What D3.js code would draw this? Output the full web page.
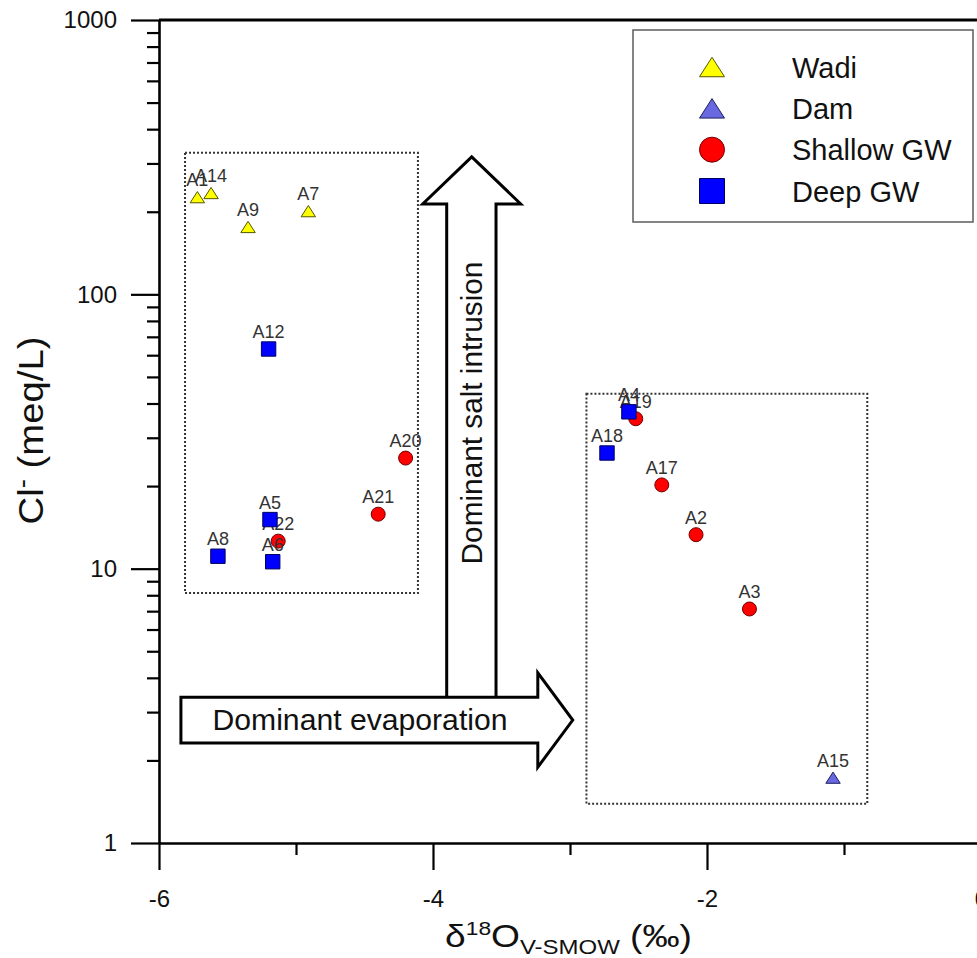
<!DOCTYPE html>
<html>
<head>
<meta charset="utf-8">
<script src="https://cdn.jsdelivr.net/npm/d3@7"></script>
<style>
  html, body { margin: 0; padding: 0; background: #fff; }
  svg { display: block; font-family: "Liberation Sans", Arial, sans-serif; }
</style>
</head>
<body>
<svg id="chart" width="977" height="958"></svg>
<script>
// ---------------- data ----------------
const xMajorTicks = [-6, -4, -2, 0];
const xMinorTicks = [-5, -3, -1];
const yMajorTicks = [1, 10, 100, 1000];
const yMinorTicks = [2,3,4,5,6,7,8,9,20,30,40,50,60,70,80,90,200,300,400,500,600,700,800,900];

const seriesNames = ["Wadi", "Dam", "Shallow GW", "Deep GW"];

const wadiLabels = ["A1", "A14", "A9", "A7"];
const wadiO18    = [-5.72, -5.62, -5.35, -4.91];
const wadiCl     = [226, 234, 176, 201];

const damLabels = ["A15"];
const damO18    = [-1.08];
const damCl     = [1.73];

const shallowLabels = ["A22", "A21", "A20", "A19", "A17", "A2", "A3"];
const shallowO18    = [-5.13, -4.40, -4.20, -2.52, -2.33, -2.08, -1.69];
const shallowCl     = [12.6, 15.8, 25.3, 35.2, 20.2, 13.3, 7.13];

const deepLabels = ["A6", "A12", "A5", "A8", "A4", "A18"];
const deepO18    = [-5.17, -5.20, -5.19, -5.57, -2.57, -2.73];
const deepCl     = [10.6, 63.2, 15.1, 11.1, 37.3, 26.4];

// dotted group boxes (data units): [xMin, xMax, clMin, clMax]
const groupBoxLeft  = [-5.81, -4.11, 8.15, 328];
const groupBoxRight = [-2.88, -0.83, 1.39, 43.4];

// annotation arrows (data units)
const evapArrowX  = [-5.84, -3.235, -2.98];   // tail, head base, tip
const evapArrowCl = [2.315, 3.40, 1.89, 4.17]; // shaft low, shaft high, head low, head high
const saltArrowX  = [-3.90, -3.54, -4.075, -3.36]; // shaft left/right, head left/right
const saltArrowCl = [3.40, 213.6, 317];        // shaft bottom, head base, tip

// ---------------- layout ----------------
const svg = d3.select("#chart");
const W = 977, H = 958;
const x = d3.scaleLinear().domain([-6, 0]).range([159, 981]);
const y = d3.scaleLog().domain([1, 1000]).range([843, 20]);

const colors = {
  "Wadi": {fill: "#ffff00", stroke: "#555500"},
  "Dam": {fill: "#6868e0", stroke: "#202060"},
  "Shallow GW": {fill: "#ff0000", stroke: "#700000"},
  "Deep GW": {fill: "#0000ff", stroke: "#000060"}
};

function stretchText(t, cx, cy, target, rotate) {
  const w = t.node().getComputedTextLength();
  const s = target / w;
  t.attr("x", 0).attr("y", 0).attr("text-anchor", "middle")
   .attr("transform", `translate(${cx},${cy})` + (rotate ? ` rotate(${rotate})` : "") + ` scale(${s},1)`);
}

// ---------------- dotted boxes ----------------
[groupBoxLeft, groupBoxRight].forEach(b => {
  svg.append("rect")
    .attr("x", x(b[0])).attr("y", y(b[3]))
    .attr("width", x(b[1]) - x(b[0])).attr("height", y(b[2]) - y(b[3]))
    .attr("fill", "none").attr("stroke", "#333").attr("stroke-width", 2)
    .attr("stroke-dasharray", "2,2");
});

// ---------------- arrows ----------------
const sA = {
  l: x(saltArrowX[0]), r: x(saltArrowX[1]),
  hl: x(saltArrowX[2]), hr: x(saltArrowX[3]),
  bottom: y(saltArrowCl[0]) + 3, base: y(saltArrowCl[1]), tip: y(saltArrowCl[2])
};
svg.append("path")
  .attr("d", `M${sA.l},${sA.bottom} L${sA.l},${sA.base} L${sA.hl},${sA.base} L${(sA.hl + sA.hr) / 2},${sA.tip} L${sA.hr},${sA.base} L${sA.r},${sA.base} L${sA.r},${sA.bottom}`)
  .attr("fill", "#fff").attr("stroke", "#000").attr("stroke-width", 3).attr("stroke-linejoin", "miter");

const eA = {
  tail: x(evapArrowX[0]), base: x(evapArrowX[1]), tip: x(evapArrowX[2]),
  sb: y(evapArrowCl[0]), st: y(evapArrowCl[1]), hb: y(evapArrowCl[2]), ht: y(evapArrowCl[3])
};
svg.append("path")
  .attr("d", `M${eA.tail},${eA.st} L${eA.base},${eA.st} L${eA.base},${eA.ht} L${eA.tip},${(eA.st + eA.sb) / 2} L${eA.base},${eA.hb} L${eA.base},${eA.sb} L${eA.tail},${eA.sb} Z`)
  .attr("fill", "#fff").attr("stroke", "#000").attr("stroke-width", 3).attr("stroke-linejoin", "miter");

const evapText = svg.append("text").attr("font-size", 29).attr("fill", "#111").text("Dominant evaporation");
stretchText(evapText, 360, (eA.st + eA.sb) / 2 + 10, 295);

const saltText = svg.append("text").attr("font-size", 29).attr("fill", "#111").text("Dominant salt intrusion");
stretchText(saltText, (sA.l + sA.r) / 2 + 11, 413, 303, -90);

// ---------------- axes ----------------
const axisG = svg.append("g");
// y minor
axisG.append("g").attr("transform", `translate(${x(-6)},0)`)
  .call(d3.axisLeft(y).tickValues(yMinorTicks).tickSize(12).tickSizeOuter(0).tickFormat(""))
  .call(g => g.select(".domain").remove());
// y major
const yAx = axisG.append("g").attr("transform", `translate(${x(-6)},0)`)
  .call(d3.axisLeft(y).tickValues(yMajorTicks).tickSize(28).tickSizeOuter(0).tickPadding(14).tickFormat(d3.format("d")));
yAx.selectAll("text").attr("font-size", 24).attr("fill", "#111").attr("font-family", "Liberation Sans, Arial, sans-serif");
// x minor
axisG.append("g").attr("transform", `translate(0,${y(1)})`)
  .call(d3.axisBottom(x).tickValues(xMinorTicks).tickSize(12).tickSizeOuter(0).tickFormat(""))
  .call(g => g.select(".domain").remove());
// x major
const xAx = axisG.append("g").attr("transform", `translate(0,${y(1)})`)
  .call(d3.axisBottom(x).tickValues(xMajorTicks).tickSize(27).tickSizeOuter(0).tickPadding(20).tickFormat(d3.format("d")));
xAx.selectAll("text").attr("font-size", 24).attr("fill", "#111").attr("font-family", "Liberation Sans, Arial, sans-serif")
  .text(d => d === 0 ? "0" : "-" + Math.abs(d));
axisG.selectAll("line").attr("stroke", "#000").attr("stroke-width", 2.2);
axisG.selectAll(".domain").attr("stroke", "#000").attr("stroke-width", 2.6);
// top frame
svg.append("line").attr("x1", x(-6)).attr("x2", W).attr("y1", y(1000)).attr("y2", y(1000))
  .attr("stroke", "#000").attr("stroke-width", 3);
svg.append("line").attr("x1", x(0)).attr("x2", x(0)).attr("y1", y(1000)).attr("y2", y(1))
  .attr("stroke", "#000").attr("stroke-width", 3);

// axis titles
const yTitle = svg.append("text").attr("font-size", 36).attr("fill", "#111");
yTitle.append("tspan").text("Cl");
yTitle.append("tspan").attr("font-size", 26).attr("dy", -12).text("-");
yTitle.append("tspan").attr("dy", 12).text(" (meq/L)");
stretchText(yTitle, 43, 430.5, 188, -90);

const xTitle = svg.append("text").attr("font-size", 31).attr("fill", "#111");
xTitle.append("tspan").text("δ");
xTitle.append("tspan").attr("font-size", 19).attr("dy", -12).text("18");
xTitle.append("tspan").attr("dy", 12).text("O");
xTitle.append("tspan").attr("font-size", 20).attr("dy", 7).text("V-SMOW");
xTitle.append("tspan").attr("dy", -7).text(" (‰)");
stretchText(xTitle, 568.5, 947, 247);

// ---------------- symbols ----------------
function symbolPath(type, s) {
  if (type === "Wadi" || type === "Dam") {
    const h = s * 0.78;
    return `M${-s},${h} L${s},${h} L0,${-h} Z`;
  }
  if (type === "Deep GW") return `M${-s},${-s} L${s},${-s} L${s},${s} L${-s},${s} Z`;
  return d3.arc()({innerRadius: 0, outerRadius: s, startAngle: 0, endAngle: 2 * Math.PI});
}

const seriesData = [
  {name: "Wadi", labels: wadiLabels, o18: wadiO18, cl: wadiCl},
  {name: "Dam", labels: damLabels, o18: damO18, cl: damCl},
  {name: "Shallow GW", labels: shallowLabels, o18: shallowO18, cl: shallowCl},
  {name: "Deep GW", labels: deepLabels, o18: deepO18, cl: deepCl}
];

seriesData.forEach(sr => {
  const pts = sr.labels.map((l, i) => ({label: l, x: sr.o18[i], c: sr.cl[i]}));
  const g = svg.append("g");
  const half = sr.name === "Shallow GW" ? 7 : 7.2;
  g.selectAll("path").data(pts).join("path")
    .attr("transform", d => `translate(${x(d.x)},${y(d.c)})`)
    .attr("d", symbolPath(sr.name, half))
    .attr("fill", colors[sr.name].fill).attr("stroke", colors[sr.name].stroke).attr("stroke-width", 1);
  g.selectAll("text").data(pts).join("text")
    .attr("x", d => x(d.x)).attr("y", d => y(d.c) - 11)
    .attr("text-anchor", "middle").attr("font-size", 18).attr("fill", "#333")
    .text(d => d.label);
});

// ---------------- legend ----------------
const lg = svg.append("g");
lg.append("rect").attr("x", 633).attr("y", 30).attr("width", 340).attr("height", 192)
  .attr("fill", "#fff").attr("stroke", "#666").attr("stroke-width", 1.6);
const legendRow = d3.scalePoint().domain(seriesNames).range([67, 191]);
seriesNames.forEach(n => {
  lg.append("path").attr("transform", `translate(712,${legendRow(n)})`)
    .attr("d", symbolPath(n, 12.5))
    .attr("fill", colors[n].fill).attr("stroke", colors[n].stroke).attr("stroke-width", 1);
  lg.append("text").attr("x", 792).attr("y", legendRow(n) + 10.5)
    .attr("font-size", 29).attr("fill", "#111").text(n);
});
</script>
</body>
</html>
